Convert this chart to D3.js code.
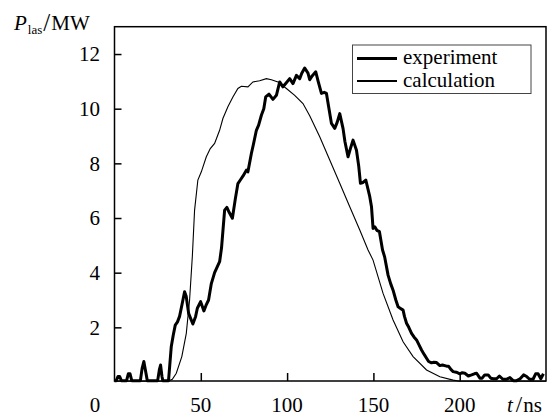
<!DOCTYPE html>
<html>
<head>
<meta charset="utf-8">
<script src="https://cdn.jsdelivr.net/npm/d3@7"></script>
<style>
  html, body { margin: 0; padding: 0; background: #fff; }
</style>
</head>
<body>
<svg id="chart" width="548" height="417" font-family="'Liberation Serif', Tinos, 'DejaVu Serif', 'Times New Roman', Times, serif"></svg>
<script>
// ---- data (t in ns, P in MW) ----
const experimentT = [0,1,2,3,4,7,8,9,10,15,16,17,18,19,25,26,26.7,27.5,28,31.3,32,32.9,34,35.2,36.5,37.7,39,40.6,41.5,43,45.4,47,48,49.9,51.8,53,54.5,56.1,58,60.9,62,63.8,65.1,66.5,68.3,70,71.5,73,74.4,76.4,77.3,79.3,80.5,82.2,83.5,85.1,86.5,87.6,89.5,91.8,93.8,95.7,97.6,99.2,101.5,103.4,105.4,107.3,108.5,110.2,112.1,113.1,114.5,116.6,118,119.9,121.5,122.8,124,125.7,127.6,129,130.5,132.4,133.5,135.3,136.5,138.2,140.2,141.5,142.5,144,145.6,147.9,148.9,149.8,150.8,152,153.5,155.3,156.5,158.5,160,161.4,163,164.3,165.5,167.2,168,169.2,170.5,172.1,173.5,175,176.5,177.9,179.5,180.8,182,183.7,185,186.6,188.5,190,192.4,193.5,195,196.2,198,200.1,201.5,203,205,206.9,208.5,209.8,211.7,213,214.5,216.5,218,219.5,221.4,223,225,227,229.1,231,233,235,237,238.8,240.5,242.5,244,245.4,247,248.5,249.4];
const experimentP = [0.05,0.05,0.2,0.2,0.05,0.05,0.3,0.3,0.05,0.05,0.5,0.75,0.4,0.05,0.05,0.45,0.62,0.2,0.05,0.05,0.6,1.3,1.7,2.08,2.2,2.4,2.8,3.3,3.15,2.5,2.12,2.4,2.7,2.94,2.6,2.8,3.0,3.6,4.0,4.4,4.9,6.29,6.39,6.2,5.99,6.7,7.26,7.4,7.53,7.75,7.69,8.36,8.7,9.21,9.4,9.76,10.0,10.43,10.53,10.34,10.49,10.98,10.8,10.92,11.1,10.92,11.22,11.1,11.3,11.49,11.3,11.06,11.2,11.35,11.0,10.56,10.6,10.56,10.1,9.46,9.28,9.5,9.82,9.28,8.8,8.24,8.5,8.85,8.48,7.9,7.27,7.3,7.39,6.78,6.41,5.62,5.68,5.55,5.5,4.83,4.58,3.91,3.6,3.36,3.0,2.75,2.7,2.63,2.4,2.15,2.0,1.78,1.65,1.54,1.35,1.17,1.0,0.87,0.75,0.7,0.72,0.71,0.6,0.62,0.58,0.58,0.45,0.38,0.36,0.3,0.34,0.32,0.22,0.26,0.3,0.32,0.14,0.14,0.26,0.26,0.14,0.12,0.12,0.22,0.1,0.1,0.16,0.05,0.05,0.12,0.26,0.2,0.1,0.1,0.3,0.3,0.12,0.3];

const calcT = [0,30.9,33.5,35.8,39,41.6,43.5,44.9,45.1,46.4,48.3,50.3,53.2,55.5,58,60.9,62.8,65.7,68.6,71.5,73.5,77.3,80.2,84.1,88,90.9,94.7,99.6,104.4,109.2,113.1,118.9,124.7,130.5,136.3,142.1,146.9,149.8,155.6,161.4,167.2,173,180.8,188.5,196.2,200,210,230,250];
const calcP = [0.03,0.03,0.1,0.32,0.93,1.78,3.0,4.4,4.6,6.29,7.39,7.69,8.24,8.54,8.73,9.21,9.64,10.07,10.43,10.74,10.82,10.8,10.98,11.02,11.1,11.06,10.98,10.74,10.49,10.19,9.74,8.97,8.12,7.27,6.41,5.56,4.83,4.46,3.24,2.27,1.47,0.93,0.44,0.19,0.07,0.03,0.03,0.03,0.03];

const yTicks = [2,4,6,8,10,12];
const xTicks = [50,100,150,200];
const legendLabels = ["experiment","calculation"];

// ---- layout ----
const svg = d3.select("#chart");
const x = d3.scaleLinear().domain([0,250]).range([114.5,546]);
const y = d3.scaleLinear().domain([0,13]).range([382,26.7]);

const experiment = experimentT.map((t,i)=>[t,experimentP[i]]);
const calculation = calcT.map((t,i)=>[t,calcP[i]]);

const line = d3.line().x(d=>x(d[0])).y(d=>y(d[1]));

// curves
svg.append("path").datum(calculation)
  .attr("d", line).attr("fill","none").attr("stroke","#000").attr("stroke-width",1.1);
svg.append("path").datum(experiment)
  .attr("d", line).attr("fill","none").attr("stroke","#000").attr("stroke-width",3)
  .attr("stroke-linejoin","round");

// frame
const x0 = x(0), x1 = x(250), yTop = y(13), yBot = 381;
svg.append("rect").attr("x",x0).attr("y",yTop).attr("width",x1-x0).attr("height",yBot-yTop)
  .attr("fill","none").attr("stroke","#000").attr("stroke-width",1.5);

// y ticks (inward)
const yAxis = d3.axisRight(y).tickValues(yTicks).tickSize(7).tickFormat("");
const gy = svg.append("g").attr("transform",`translate(${x0},0)`).call(yAxis);
gy.select(".domain").remove();
gy.selectAll("line").attr("stroke","#000").attr("stroke-width",1.5);
svg.selectAll(".ylab").data(yTicks).enter().append("text")
  .attr("x",100).attr("y",d=>y(d)).attr("dy","0.35em")
  .attr("text-anchor","end").attr("font-size",21).text(d=>d);

// x ticks (inward)
const xAxis = d3.axisTop(x).tickValues(xTicks).tickSize(8).tickFormat("");
const gx = svg.append("g").attr("transform",`translate(0,${yBot})`).call(xAxis);
gx.select(".domain").remove();
gx.selectAll("line").attr("stroke","#000").attr("stroke-width",1.5);
svg.selectAll(".xlab").data([0].concat(xTicks)).enter().append("text")
  .attr("x",d=> d===0 ? 95 : x(d)).attr("y",412)
  .attr("text-anchor","middle").attr("font-size",21).text(d=>d);

// x title t/ns
const xt = svg.append("text").attr("x",507).attr("y",412).attr("font-size",21);
xt.append("tspan").attr("font-style","italic").text("t");
xt.append("tspan").attr("dx",3).attr("font-size",23).text("/");
xt.append("tspan").attr("dx",1).text("ns");

// y title P_las/MW
const yt = svg.append("text").attr("x",14).attr("y",30).attr("font-size",21);
yt.append("tspan").attr("font-style","italic").text("P");
yt.append("tspan").attr("font-size",13).attr("dy",4).attr("dx",1).text("las");
yt.append("tspan").attr("font-size",25).attr("dy",-3).attr("dx",1).text("/");
yt.append("tspan").attr("dy",-1).attr("dx",1).text("MW");

// legend
const lg = svg.append("g");
lg.append("rect").attr("x",352.5).attr("y",45).attr("width",178.5).attr("height",48.5)
  .attr("fill","#fff").attr("stroke","#444").attr("stroke-width",1);
const widths = [3.2,1.8];
const lys = [58.5,81];
legendLabels.forEach((lab,i)=>{
  lg.append("line").attr("x1",357).attr("x2",397).attr("y1",lys[i]).attr("y2",lys[i])
    .attr("stroke","#000").attr("stroke-width",widths[i]);
  lg.append("text").attr("x",403).attr("y",lys[i]+5.5).attr("font-size",21).text(lab);
});
</script>
</body>
</html>
